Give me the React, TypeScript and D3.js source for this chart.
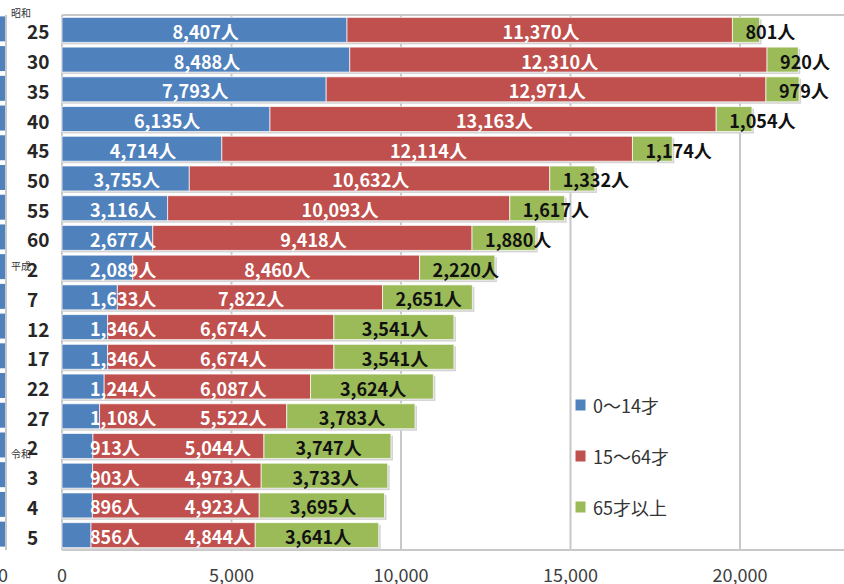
import React, { useMemo } from "react";
import * as d3 from "d3";

const categories = ["25","30","35","40","45","50","55","60","2","7","12","17","22","27","2","3","4","5"];
const eraNames = ["昭和", "平成", "令和"];
const eraStartIndex = [0, 8, 14];
const young = [8407,8488,7793,6135,4714,3755,3116,2677,2089,1633,1346,1346,1244,1108,913,903,896,856];
const working = [11370,12310,12971,13163,12114,10632,10093,9418,8460,7822,6674,6674,6087,5522,5044,4973,4923,4844];
const elderly = [801,920,979,1054,1174,1332,1617,1880,2220,2651,3541,3541,3624,3783,3747,3733,3695,3641];
const seriesNames = ["0〜14才", "15〜64才", "65才以上"];
const xTicks = [0, 5000, 10000, 15000, 20000];

const COLORS = ["#4f81bd", "#c0504d", "#9bbb59"];
const W = 844, H = 584;
const FS = 18;

function estWidth(text: string, fs: number) {
  let w = 0;
  for (const ch of text) {
    if (ch >= "0" && ch <= "9") w += 0.57 * fs;
    else if (ch === ",") w += 0.28 * fs;
    else w += 1.0 * fs;
  }
  return w;
}

export default function App() {
  const x = d3.scaleLinear().domain([0, 20000]).range([62, 740]);
  const y = d3.scaleBand<number>().domain(d3.range(categories.length)).range([15, 550]).paddingInner(0.16).paddingOuter(0.08);
  const fmt = d3.format(",");
  const bh = y.bandwidth();

  const rows = useMemo(() => categories.map((c, i) => {
    const vals = [young[i], working[i], elderly[i]];
    let acc = 0;
    const segs = vals.map((v, k) => {
      const s = { k, v, x0: x(acc), x1: x(acc + v) };
      acc += v;
      return s;
    });
    const texts = vals.map(v => fmt(v) + "人");
    const widths = texts.map(t => estWidth(t, FS));
    const lefts: number[] = [];
    const bc = (segs[0].x0 + segs[0].x1) / 2;
    lefts[0] = Math.max(bc - widths[0] / 2, 90);
    const rc = (segs[1].x0 + segs[1].x1) / 2;
    lefts[1] = Math.max(rc - widths[1] / 2, lefts[0] + widths[0] + 46);
    const gc = (segs[2].x0 + segs[2].x1) / 2;
    lefts[2] = Math.max(gc - widths[2] / 2, segs[2].x0 + 13);
    return { i, segs, texts, lefts, total: acc };
  }), []);

  return (
    <svg width={W} height={H} style={{ position: "absolute", left: 0, top: 0, background: "#fff" }}
      fontFamily="'Noto Sans CJK JP', 'Noto Sans', sans-serif">
      {/* left partial strip of neighbouring chart */}
      {rows.map(r => (
        <rect key={"ls" + r.i} x={0} y={(y(r.i) as number) - 1} width={5} height={bh} fill={COLORS[0]} />
      ))}
      <line x1={6} x2={6} y1={15} y2={550} stroke="#c8c8c8" strokeWidth={2} />
      <text x={3} y={582} fontSize={18} fill="#404040" textAnchor="middle">0</text>

      {/* gridlines */}
      {xTicks.slice(1).map(t => (
        <line key={"g" + t} x1={x(t)} x2={x(t)} y1={15} y2={550} stroke="#c8c8c8" strokeWidth={2} />
      ))}
      {/* plot frame */}
      <line x1={62} x2={W} y1={15} y2={15} stroke="#c8c8c8" strokeWidth={2} />
      <line x1={62} x2={W} y1={550} y2={550} stroke="#c8c8c8" strokeWidth={2} />
      <line x1={62} x2={62} y1={15} y2={550} stroke="#c8c8c8" strokeWidth={2} />

      {/* bars */}
      {rows.map(r => {
        const yy = y(r.i) as number;
        return (
          <g key={"r" + r.i}>
            <rect x={x(0)} y={yy + 2} width={x(r.total) - x(0) + 2} height={bh} fill="#d4d4d4" />
            {r.segs.map(s => (
              <rect key={s.k} x={s.x0} y={yy} width={s.x1 - s.x0} height={bh} fill={COLORS[s.k]}
                stroke="#ffffff" strokeOpacity={0.7} strokeWidth={1} />
            ))}
          </g>
        );
      })}
      {/* labels */}
      {rows.map(r => {
        const yy = (y(r.i) as number) + bh / 2 + 1;
        return (
          <g key={"l" + r.i}>
            {r.texts.map((t, k) => (
              <text key={k} x={r.lefts[k]} y={yy} dominantBaseline="central" fontSize={FS} fontWeight="bold"
                fill={k === 2 ? "#111" : "#ffffff"}>{t}</text>
            ))}
          </g>
        );
      })}

      {/* category labels */}
      {categories.map((c, i) => (
        <text key={"c" + i} x={27} y={(y(i) as number) + bh / 2 + 1} dominantBaseline="central" fontSize={19}
          fontWeight="bold" fill="#262626">{c}</text>
      ))}
      {eraNames.map((e, j) => {
        const idx = eraStartIndex[j];
        const cy = (y(idx) as number) + bh / 2;
        const yy = j === 0 ? (y(idx) as number) - 5 : j === 1 ? cy - 2 : cy + 8;
        return (
          <text key={"e" + j} x={11} y={yy} dominantBaseline="central" fontSize={10} fill="#333">{e}</text>
        );
      })}

      {/* x ticks */}
      {xTicks.map(t => (
        <text key={"t" + t} x={x(t)} y={582} textAnchor="middle" fontSize={18} fill="#404040">{fmt(t)}</text>
      ))}

      {/* legend */}
      {seriesNames.map((n, k) => {
        const cy = 405 + k * 51;
        return (
          <g key={"lg" + k}>
            <rect x={575} y={cy - 6} width={11} height={12} fill={COLORS[k]} stroke="#fff" strokeWidth={1} />
            <text x={593} y={cy} dominantBaseline="central" fontSize={18} fill="#333">{n}</text>
          </g>
        );
      })}
    </svg>
  );
}
